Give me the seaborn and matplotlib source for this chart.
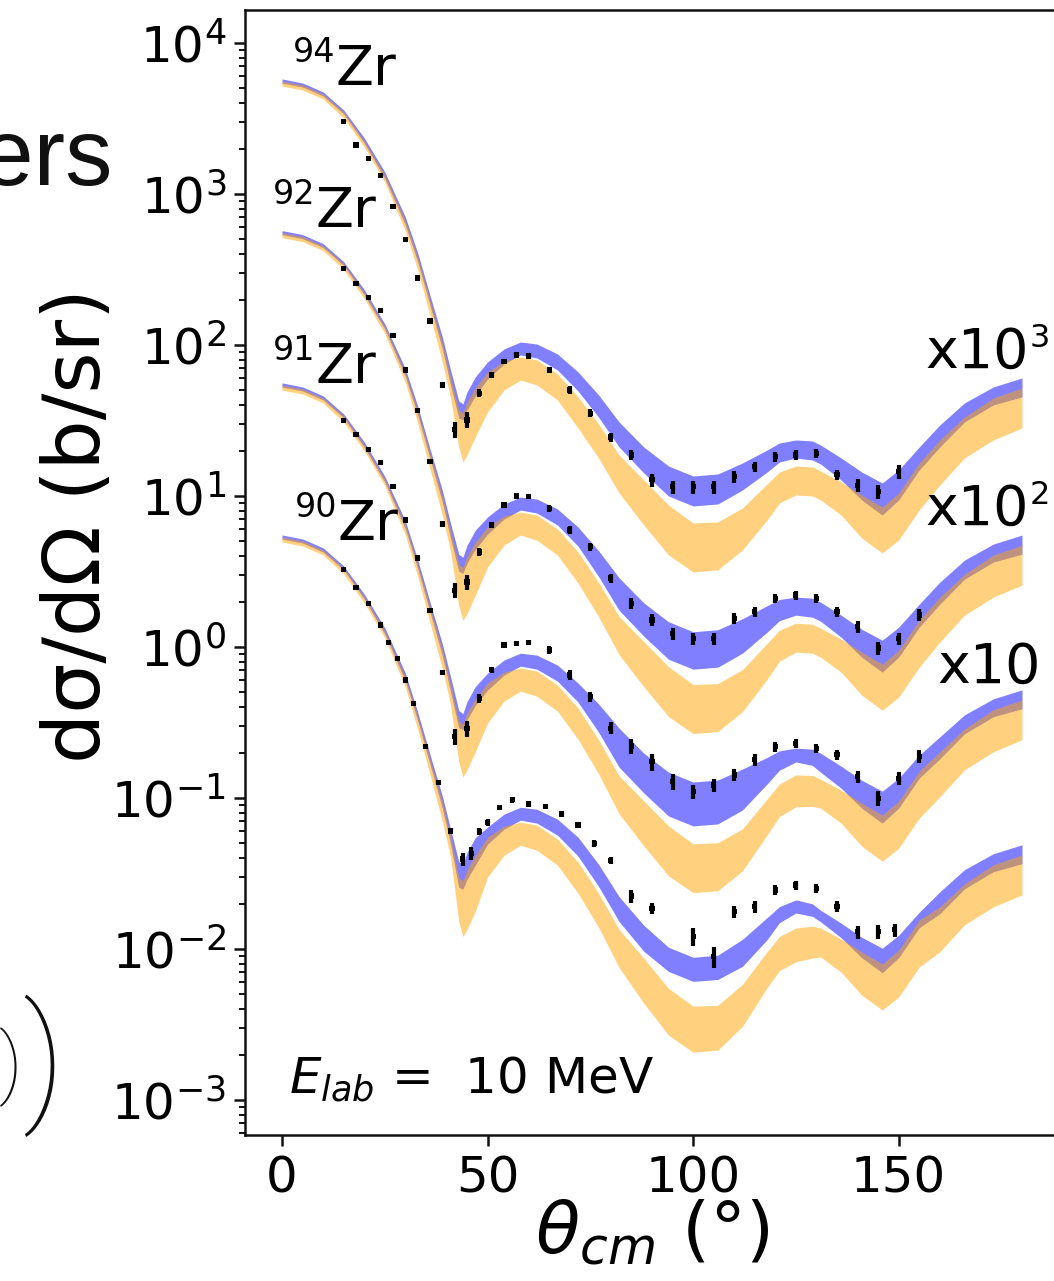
import numpy as np
import pandas as pd
import matplotlib
matplotlib.use("Agg")
import matplotlib.pyplot as plt
import seaborn as sns

# ---------------- model bands (raw b/sr, before the display scale factor) ----
theta = [0, 5, 10, 15, 20, 25, 30, 33, 36, 39, 41, 43, 44, 45, 47, 50, 54, 58, 62, 67,
         72, 77, 82, 88, 94, 100, 106, 112, 118, 121, 125, 129, 131, 136, 141, 146,
         150, 155, 160, 166, 173, 180]

zr94_blue_hi = [5.78, 5.43, 4.74, 3.60, 2.35, 1.40, 0.704, 0.408, 0.213, 0.113, 0.0683, 0.0426, 0.0407, 0.0488, 0.0614, 0.0772, 0.0941, 0.1046, 0.1015, 0.0872, 0.0663, 0.0467, 0.0309, 0.0211, 0.0158, 0.01356, 0.01398, 0.01654, 0.02016, 0.02243, 0.02349, 0.02314, 0.02176, 0.01785, 0.01441, 0.01219, 0.01486, 0.0211, 0.02952, 0.0413, 0.0527, 0.0605]
zr94_blue_lo = [5.43, 5.11, 4.46, 3.39, 2.17, 1.27, 0.623, 0.356, 0.183, 0.0941, 0.0543, 0.0328, 0.0319, 0.0371, 0.0459, 0.0595, 0.0748, 0.0859, 0.0820, 0.0683, 0.0496, 0.0333, 0.0211, 0.0142, 0.0100, 0.00859, 0.00885, 0.01096, 0.01441, 0.01679, 0.01785, 0.01731, 0.01629, 0.01276, 0.00941, 0.00748, 0.00941, 0.01486, 0.0211, 0.0309, 0.0401, 0.0453]
zr94_orng_hi = [5.60, 5.27, 4.59, 3.49, 2.24, 1.34, 0.662, 0.379, 0.198, 0.103, 0.0605, 0.0371, 0.0354, 0.0419, 0.0519, 0.0663, 0.0783, 0.0833, 0.0796, 0.0643, 0.0453, 0.0300, 0.01868, 0.01276, 0.00872, 0.00663, 0.00673, 0.00833, 0.0120, 0.01441, 0.0158, 0.01556, 0.01464, 0.01238, 0.01015, 0.00846, 0.01046, 0.01654, 0.02349, 0.0333, 0.0446, 0.0519]
zr94_orng_lo = [5.19, 4.88, 4.26, 3.19, 2.05, 1.20, 0.568, 0.315, 0.157, 0.0772, 0.0446, 0.0211, 0.0168, 0.01868, 0.0246, 0.0360, 0.0503, 0.0586, 0.0543, 0.0432, 0.0282, 0.01785, 0.01046, 0.00642, 0.00407, 0.00314, 0.00324, 0.00439, 0.00694, 0.00899, 0.01015, 0.0100, 0.00941, 0.00748, 0.00527, 0.00419, 0.00511, 0.00808, 0.01182, 0.01785, 0.02349, 0.0282]

zr92_blue_hi = [5.72, 5.38, 4.69, 3.56, 2.33, 1.38, 0.697, 0.394, 0.205, 0.109, 0.0659, 0.0411, 0.0393, 0.0471, 0.0593, 0.0726, 0.0885, 0.0983, 0.0954, 0.0820, 0.0623, 0.0434, 0.0287, 0.0196, 0.0147, 0.01261, 0.01300, 0.01538, 0.01875, 0.02064, 0.02138, 0.02106, 0.01980, 0.01624, 0.01311, 0.01109, 0.01352, 0.0192, 0.02686, 0.0376, 0.0480, 0.0551]
zr92_blue_lo = [5.38, 5.06, 4.42, 3.36, 2.15, 1.27, 0.617, 0.344, 0.177, 0.0908, 0.0524, 0.0317, 0.0308, 0.0358, 0.0443, 0.0559, 0.0703, 0.0807, 0.0771, 0.0642, 0.0466, 0.0293, 0.0175, 0.0118, 0.0083, 0.00713, 0.00735, 0.00910, 0.01254, 0.01494, 0.01624, 0.01575, 0.01482, 0.01161, 0.00856, 0.00681, 0.00856, 0.01352, 0.0192, 0.0281, 0.0365, 0.0412]
zr92_orng_hi = [5.54, 5.22, 4.54, 3.46, 2.22, 1.32, 0.656, 0.365, 0.191, 0.0994, 0.0584, 0.0352, 0.0336, 0.0398, 0.0493, 0.0623, 0.0736, 0.0783, 0.0748, 0.0604, 0.0426, 0.0267, 0.01588, 0.01085, 0.00741, 0.00564, 0.00572, 0.00708, 0.01056, 0.0129, 0.01438, 0.01416, 0.01332, 0.01127, 0.00924, 0.00770, 0.00952, 0.01505, 0.02138, 0.0303, 0.0406, 0.0472]
zr92_orng_lo = [5.14, 4.83, 4.22, 3.16, 2.03, 1.19, 0.563, 0.304, 0.151, 0.0745, 0.0430, 0.0188, 0.0150, 0.0166, 0.0219, 0.0338, 0.0473, 0.0551, 0.0510, 0.0406, 0.0265, 0.01589, 0.00889, 0.00546, 0.00346, 0.00267, 0.00275, 0.00373, 0.00611, 0.00805, 0.00924, 0.0091, 0.00856, 0.00681, 0.00480, 0.00381, 0.00465, 0.00735, 0.01076, 0.01624, 0.02138, 0.0257]

zr91_blue_hi = [5.61, 5.27, 4.60, 3.49, 2.28, 1.35, 0.683, 0.379, 0.198, 0.105, 0.0635, 0.0379, 0.0362, 0.0434, 0.0546, 0.0672, 0.0819, 0.0910, 0.0883, 0.0759, 0.0577, 0.0420, 0.0290, 0.0198, 0.01485, 0.01275, 0.01314, 0.01555, 0.01855, 0.02052, 0.02138, 0.02106, 0.01980, 0.01624, 0.01311, 0.01109, 0.01352, 0.0192, 0.0254, 0.0355, 0.0453, 0.0520]
zr91_blue_lo = [5.27, 4.96, 4.33, 3.29, 2.10, 1.24, 0.605, 0.331, 0.170, 0.0875, 0.0505, 0.0292, 0.0284, 0.0330, 0.0409, 0.0518, 0.0651, 0.0747, 0.0713, 0.0594, 0.0432, 0.0273, 0.0160, 0.0108, 0.0076, 0.00653, 0.00673, 0.00833, 0.01239, 0.01528, 0.01731, 0.01644, 0.01482, 0.01161, 0.00856, 0.00681, 0.00856, 0.01352, 0.01815, 0.0266, 0.0345, 0.0390]
zr91_orng_hi = [5.43, 5.11, 4.45, 3.39, 2.17, 1.29, 0.642, 0.352, 0.183, 0.0958, 0.0563, 0.0323, 0.0308, 0.0365, 0.0452, 0.0577, 0.0681, 0.0725, 0.0693, 0.0559, 0.0394, 0.0243, 0.0140, 0.00957, 0.00654, 0.00497, 0.00505, 0.00625, 0.00984, 0.01239, 0.01422, 0.01408, 0.01332, 0.01127, 0.00924, 0.00770, 0.00952, 0.01505, 0.0202, 0.0286, 0.0384, 0.0446]
zr91_orng_lo = [5.03, 4.73, 4.13, 3.09, 1.99, 1.17, 0.551, 0.293, 0.145, 0.0718, 0.0415, 0.0173, 0.0138, 0.0153, 0.0202, 0.0313, 0.0438, 0.0510, 0.0472, 0.0376, 0.0245, 0.01446, 0.00785, 0.00482, 0.00305, 0.00236, 0.00243, 0.00329, 0.00569, 0.00755, 0.00873, 0.0088, 0.00856, 0.00681, 0.00480, 0.00381, 0.00465, 0.00735, 0.01017, 0.01535, 0.0202, 0.0243]

zr90_blue_hi = [5.52, 5.19, 4.53, 3.44, 2.24, 1.34, 0.672, 0.371, 0.194, 0.103, 0.0622, 0.0379, 0.0362, 0.0434, 0.0546, 0.0641, 0.0781, 0.0868, 0.0842, 0.0724, 0.0550, 0.0364, 0.0222, 0.01435, 0.01027, 0.00881, 0.00909, 0.01158, 0.01613, 0.01907, 0.02114, 0.0199, 0.01806, 0.01482, 0.01196, 0.01012, 0.01233, 0.01751, 0.0239, 0.0335, 0.0427, 0.0490]
zr90_blue_lo = [5.19, 4.88, 4.26, 3.24, 2.08, 1.22, 0.595, 0.325, 0.167, 0.0856, 0.0494, 0.0256, 0.0249, 0.0289, 0.0358, 0.0494, 0.0621, 0.0713, 0.0681, 0.0567, 0.0412, 0.0260, 0.01519, 0.00966, 0.0071, 0.0061, 0.00628, 0.00767, 0.01153, 0.01494, 0.01731, 0.01644, 0.01515, 0.01187, 0.00875, 0.00696, 0.00875, 0.01382, 0.01709, 0.0250, 0.0325, 0.0367]
zr90_orng_hi = [5.35, 5.03, 4.38, 3.33, 2.14, 1.27, 0.632, 0.344, 0.180, 0.0937, 0.0551, 0.0297, 0.0283, 0.0335, 0.0415, 0.0550, 0.0650, 0.0691, 0.0661, 0.0534, 0.0376, 0.0234, 0.01345, 0.00868, 0.00549, 0.00418, 0.00424, 0.00583, 0.0096, 0.0121, 0.01375, 0.01416, 0.01376, 0.01164, 0.00954, 0.00795, 0.00983, 0.01555, 0.0190, 0.0270, 0.0361, 0.0420]
zr90_orng_lo = [4.96, 4.66, 4.07, 3.05, 1.96, 1.15, 0.543, 0.286, 0.143, 0.0703, 0.0406, 0.0152, 0.0121, 0.01345, 0.0177, 0.0299, 0.0417, 0.0486, 0.0451, 0.0359, 0.0234, 0.01392, 0.00753, 0.00437, 0.00269, 0.00207, 0.00214, 0.00307, 0.00555, 0.00719, 0.00822, 0.0087, 0.00885, 0.00703, 0.00495, 0.00394, 0.0048, 0.0076, 0.00957, 0.01446, 0.0190, 0.0228]

# ---------------- experimental points (raw b/sr) and relative errors (%) ----
ang94 = [15, 18, 21, 24, 27, 30, 33, 36, 39, 42, 45, 48, 51, 54, 57, 60, 65, 70, 75, 80, 85, 90, 95, 100, 105, 110, 115, 120, 125, 130, 135, 140, 145, 150]
val94 = [3.01, 2.11, 1.71, 1.32, 0.824, 0.501, 0.278, 0.144, 0.0543, 0.0274, 0.0319, 0.0479, 0.0633, 0.0775, 0.0859, 0.0845, 0.0683, 0.0504, 0.0353, 0.0246, 0.0187, 0.0128, 0.0115, 0.0115, 0.0115, 0.0134, 0.0156, 0.0182, 0.0187, 0.0192, 0.0138, 0.0118, 0.0107, 0.0145]
err94 = [2, 2, 2, 2, 2, 2, 2, 3, 4, 12, 12, 6, 5, 4, 4, 4, 5, 6, 6, 7, 8, 10, 10, 10, 10, 9, 8, 8, 7, 7, 8, 10, 11, 10]

ang92 = [15, 18, 21, 24, 27, 30, 33, 36, 39, 42, 45, 48, 51, 54, 57, 60, 65, 70, 75, 80, 85, 90, 95, 100, 105, 110, 115, 120, 125, 130, 135, 140, 145, 150, 155]
val92 = [3.22, 2.54, 2.06, 1.69, 1.15, 0.683, 0.370, 0.169, 0.0653, 0.0238, 0.0269, 0.0426, 0.0643, 0.0871, 0.100, 0.0989, 0.0830, 0.0596, 0.0461, 0.0286, 0.0195, 0.0151, 0.0123, 0.0114, 0.0114, 0.0155, 0.0171, 0.0210, 0.0221, 0.0210, 0.0171, 0.0136, 0.00984, 0.0114, 0.0163]
err92 = [2, 2, 2, 2, 2, 2, 3, 3, 4, 12, 12, 6, 5, 4, 4, 4, 5, 6, 6, 7, 8, 9, 9, 9, 9, 8, 8, 7, 7, 7, 8, 9, 10, 9, 9]

ang91 = [15, 18, 21, 24, 27, 30, 33, 36, 39, 42, 45, 48, 51, 54, 57, 60, 65, 70, 75, 80, 85, 90, 95, 100, 105, 110, 115, 120, 125, 130, 135, 140, 145, 150, 155]
val91 = [3.18, 2.54, 2.04, 1.67, 1.16, 0.693, 0.388, 0.175, 0.0676, 0.0254, 0.0290, 0.0457, 0.0705, 0.103, 0.106, 0.107, 0.0955, 0.0653, 0.0469, 0.0290, 0.0221, 0.0174, 0.0128, 0.0110, 0.0122, 0.0142, 0.0179, 0.0219, 0.0230, 0.0213, 0.0193, 0.0138, 0.00995, 0.0135, 0.0188]
err91 = [2, 2, 2, 2, 2, 2, 3, 3, 4, 12, 12, 7, 5, 4, 4, 4, 6, 7, 8, 9, 12, 13, 12, 11, 10, 9, 9, 8, 7, 7, 8, 9, 11, 10, 10]

ang90 = [15, 18, 21, 24, 26, 28, 30, 32, 35, 38, 41, 44, 46, 48, 50, 53, 56, 60, 64, 68, 72, 76, 80, 85, 90, 100, 105, 110, 115, 120, 125, 130, 135, 140, 145, 149]
val90 = [3.27, 2.48, 1.93, 1.40, 1.07, 0.834, 0.604, 0.420, 0.219, 0.126, 0.0604, 0.0394, 0.0431, 0.0598, 0.0689, 0.0865, 0.0971, 0.0913, 0.0875, 0.0783, 0.0662, 0.0501, 0.0386, 0.0224, 0.0186, 0.0121, 0.0089, 0.0177, 0.0191, 0.0246, 0.0265, 0.0252, 0.0191, 0.0130, 0.0130, 0.0134]
err90 = [2, 2, 2, 2, 2, 2, 2, 2, 3, 3, 4, 10, 10, 5, 5, 4, 4, 4, 4, 4, 4, 5, 6, 10, 8, 13, 16, 9, 9, 8, 7, 7, 8, 10, 11, 10]

isotopes = ["90Zr", "91Zr", "92Zr", "94Zr"]
mass_numbers = ["90", "91", "92", "94"]
scale_factors = [1, 10, 100, 1000]
scale_powers = ["", "", "2", "3"]

bands = {
    "90Zr": (zr90_blue_lo, zr90_blue_hi, zr90_orng_lo, zr90_orng_hi),
    "91Zr": (zr91_blue_lo, zr91_blue_hi, zr91_orng_lo, zr91_orng_hi),
    "92Zr": (zr92_blue_lo, zr92_blue_hi, zr92_orng_lo, zr92_orng_hi),
    "94Zr": (zr94_blue_lo, zr94_blue_hi, zr94_orng_lo, zr94_orng_hi),
}
points = {
    "90Zr": (ang90, val90, err90),
    "91Zr": (ang91, val91, err91),
    "92Zr": (ang92, val92, err92),
    "94Zr": (ang94, val94, err94),
}

# ---------------- styling ----------------
sns.set_theme(style="ticks")
plt.rcParams['font.family'] = ['DejaVu Sans']
plt.rcParams['mathtext.fontset'] = 'dejavusans'
plt.rcParams['axes.edgecolor'] = '#111111'
plt.rcParams['xtick.color'] = '#111111'
plt.rcParams['ytick.color'] = '#111111'
plt.rcParams['text.color'] = '#000000'
plt.rcParams['axes.labelcolor'] = '#000000'
plt.rcParams['xtick.labelcolor'] = '#000000'
plt.rcParams['ytick.labelcolor'] = '#000000'

W, H = 1054, 1281
fig = plt.figure(figsize=(W / 100, H / 100), dpi=100)
ax = fig.add_axes([245 / W, (H - 1135) / H, (1059 - 245) / W, (1135 - 10) / H])
ax.set_yscale('log')

rows = []
for iso, sf in zip(isotopes, scale_factors):
    blo, bhi, olo, ohi = bands[iso]
    ax.fill_between(theta, np.array(blo) * sf, np.array(bhi) * sf,
                    color='blue', alpha=0.5, lw=0)
    ax.fill_between(theta, np.array(olo) * sf, np.array(ohi) * sf,
                    color='orange', alpha=0.5, lw=0)
    a, v, e = points[iso]
    v = np.array(v) * sf
    ax.errorbar(a, v, yerr=v * np.array(e) / 100.0, fmt='none',
                ecolor='black', elinewidth=3.0, capsize=0, zorder=4)
    for ai, vi in zip(a, v):
        rows.append({"theta": ai, "xs": vi, "iso": iso})

df = pd.DataFrame(rows)
sns.scatterplot(data=df, x="theta", y="xs", marker='s', s=14, color='black',
                edgecolor='none', legend=False, ax=ax, zorder=5)

ax.set_xlim(-9, 189)
ax.set_ylim(5.86e-4, 1.654e4)
ax.set_xticks([0, 50, 100, 150])
ax.tick_params(axis='both', which='major', length=7.7, width=1.8,
               labelsize=36, pad=6, direction='out')
ax.tick_params(axis='y', which='minor', length=4.2, width=1.4, direction='out')
for sp in ax.spines.values():
    sp.set_linewidth(1.8)

ax.set_xlabel(r"$\theta_{cm}$ (°)", fontsize=52)
ax.set_ylabel("dσ/dΩ (b/sr)", fontsize=57)
ax.yaxis.set_label_coords(-0.158, 0.542)
ax.xaxis.set_label_coords(0.5, -0.056)
ax.xaxis.label.set_va('top')


def ftext(x, y, s, **kw):
    """Place text at figure pixel position (x from left, y from top)."""
    return fig.text(x / W, 1 - y / H, s, **kw)


# isotope labels: small mass number raised before "Zr"
iso_pos = {"94": (293, 85), "92": (273, 227), "91": (273, 383), "90": (295, 540)}
for m in mass_numbers:
    x0, yb = iso_pos[m]
    ftext(x0, yb - 23, m, fontsize=24, ha='left', va='baseline')
    ftext(x0 + 42, yb, "Zr", fontsize=40, ha='left', va='baseline')

# scale-factor labels
ftext(925, 368, "x10", fontsize=40, ha='left', va='baseline')
ftext(1030, 347, scale_powers[3], fontsize=23, ha='left', va='baseline')
ftext(925, 525, "x10", fontsize=40, ha='left', va='baseline')
ftext(1030, 504, scale_powers[2], fontsize=23, ha='left', va='baseline')
ftext(937, 683, "x10", fontsize=40, ha='left', va='baseline')

ax.text(1.6, 1.11e-3, r"$E_{lab}$ =  10 MeV", fontsize=36, ha='left', va='baseline')

# slide fragments outside the plot
ftext(112, 185, "ers", fontsize=68, family='Liberation Sans',
      ha='right', va='baseline', color='#111111')
ftext(43, 1066, ")", fontsize=100, family=['Roboto', 'Liberation Serif'],
      fontweight=100, ha='center', va='center', color='#111111')
ftext(11, 1067, ")", fontsize=56, family=['Roboto', 'Liberation Serif'],
      fontweight=100, ha='center', va='center', color='#111111')

fig.savefig("out.png", dpi=100)
